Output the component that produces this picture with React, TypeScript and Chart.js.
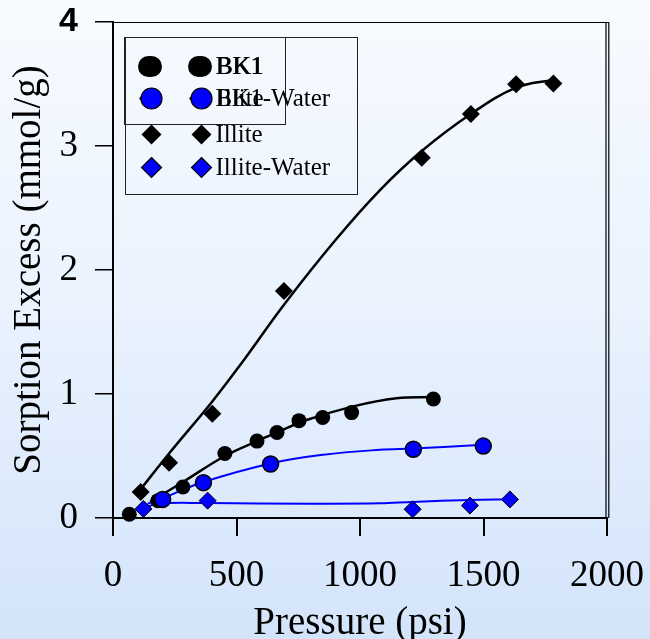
import React, { useEffect, useRef } from "react";
import { Chart, registerables } from "chart.js";
Chart.register(...registerables);

// ---- data ----
const xTickValues = [0, 500, 1000, 1500, 2000];
const yTickValues = [0, 1, 2, 3, 4];

const bk1P = [66, 182, 283, 453, 583, 664, 753, 849, 966, 1297];
const bk1S = [0.03, 0.14, 0.25, 0.52, 0.62, 0.69, 0.785, 0.81, 0.85, 0.96];
const bk1WaterP = [201, 366, 638, 1216, 1499];
const bk1WaterS = [0.15, 0.285, 0.435, 0.554, 0.58];
const illiteP = [112, 227, 402, 692, 1250, 1449, 1632, 1783];
const illiteS = [0.21, 0.446, 0.84, 1.83, 2.906, 3.258, 3.497, 3.505];
const illiteWaterP = [123, 383, 1213, 1445, 1607];
const illiteWaterS = [0.073, 0.14, 0.07, 0.1, 0.15];

// fitted curves
const bk1FitP = [150, 283, 453, 583, 664, 784, 973, 1148, 1297];
const bk1FitS = [0.13, 0.29, 0.5, 0.62, 0.69, 0.79, 0.9, 0.965, 0.975];
const bk1WaterFitP = [140, 201, 366, 638, 851, 1081, 1216, 1499];
const bk1WaterFitS = [0.115, 0.16, 0.29, 0.44, 0.51, 0.55, 0.56, 0.59];
const illiteFitP = [109, 227, 402, 521, 696, 900, 1081, 1250, 1450, 1632, 1783];
const illiteFitS = [0.225, 0.52, 0.94, 1.25, 1.73, 2.24, 2.645, 2.96, 3.26, 3.47, 3.535];
const illiteWaterFitP = [123, 180, 383, 800, 1081, 1213, 1445, 1607];
const illiteWaterFitS = [0.075, 0.115, 0.12, 0.115, 0.118, 0.13, 0.145, 0.15];

const legendLabels = ["BK1", "BK1-Water", "Illite", "Illite-Water"];
const smallLegendLabels = ["BK1", "Illite"];

const xTitle = "Pressure (psi)";
const yTitle = "Sorption Excess (mmol/g)";

const BLUE = "#0000ff";
const SERIF = "'Liberation Serif', 'Times New Roman', serif";

const pts = (xs: number[], ys: number[]) => xs.map((x, i) => ({ x, y: ys[i] }));

function drawMarker(ctx: CanvasRenderingContext2D, kind: string, x: number, y: number, r: number, fill: string, stroke: string | null) {
  ctx.beginPath();
  if (kind === "circle") {
    ctx.arc(x, y, r, 0, Math.PI * 2);
  } else {
    ctx.moveTo(x, y - r);
    ctx.lineTo(x + r, y);
    ctx.lineTo(x, y + r);
    ctx.lineTo(x - r, y);
    ctx.closePath();
  }
  ctx.fillStyle = fill;
  ctx.fill();
  if (stroke) {
    ctx.strokeStyle = stroke;
    ctx.lineWidth = 1.2;
    ctx.stroke();
  }
}

const framePlugin = {
  id: "frame",
  beforeDatasetsDraw(chart: any) {
    const { ctx, chartArea } = chart;
    const { left, right, top, bottom } = chartArea;
    ctx.save();
    ctx.strokeStyle = "#000";
    ctx.lineWidth = 1.2;
    ctx.beginPath();
    ctx.moveTo(left, top + 0.5);
    ctx.lineTo(right + 2, top + 0.5);
    ctx.moveTo(right - 1, top);
    ctx.lineTo(right - 1, bottom);
    ctx.moveTo(right + 1.8, top);
    ctx.lineTo(right + 1.8, bottom);
    ctx.stroke();
    ctx.restore();
  },
};

const legendPlugin = {
  id: "doubleLegend",
  afterDraw(chart: any) {
    const { ctx, chartArea } = chart;
    const x0 = chartArea.left + 12.5;
    const y0 = chartArea.top + 15.5;
    const rowY = [y0 + 29, y0 + 61, y0 + 97, y0 + 130];
    const m1 = x0 + 26;
    const m2 = x0 + 76;
    const tx = x0 + 90;
    ctx.save();
    ctx.strokeStyle = "#222";
    ctx.lineWidth = 1;
    // small (back) legend
    ctx.strokeRect(x0 - 1, y0, 161, 87);
    const smallKinds = [
      { kind: "circle", fill: "#000", stroke: null },
      { kind: "diamond", fill: "#000", stroke: null },
    ];
    smallKinds.forEach((k, i) => {
      const r = k.kind === "circle" ? 10.5 : 9.5;
      drawMarker(ctx, k.kind, m1 - 3, rowY[i], r, k.fill, k.stroke);
      drawMarker(ctx, k.kind, m2 - 3, rowY[i], r, k.fill, k.stroke);
    });
    ctx.font = `25px ${SERIF}`;
    ctx.fillStyle = "#000";
    ctx.textBaseline = "middle";
    ctx.textAlign = "left";
    smallLegendLabels.forEach((t, i) => ctx.fillText(t, tx + 1, rowY[i] + 1));
    // big legend
    ctx.strokeRect(x0, y0, 232, 157);
    const kinds = [
      { kind: "circle", fill: "#000", stroke: null },
      { kind: "circle", fill: BLUE, stroke: "#000" },
      { kind: "diamond", fill: "#000", stroke: null },
      { kind: "diamond", fill: BLUE, stroke: "#000" },
    ];
    kinds.forEach((k, i) => {
      const r = k.kind === "circle" ? 10.5 : 10;
      drawMarker(ctx, k.kind, m1, rowY[i], r, k.fill, k.stroke);
      drawMarker(ctx, k.kind, m2, rowY[i], r, k.fill, k.stroke);
    });
    ctx.fillStyle = "#000";
    legendLabels.forEach((t, i) => ctx.fillText(t, tx, rowY[i] + 1));
    ctx.restore();
  },
};

export default function App() {
  const ref = useRef<HTMLCanvasElement>(null);
  useEffect(() => {
    if (!ref.current) return;
    const pointSet = (label: string, xs: number[], ys: number[], style: string, fill: string, border: string, r: number, bw: number) => ({
      label,
      data: pts(xs, ys),
      showLine: false,
      pointStyle: style,
      pointRadius: r,
      pointBackgroundColor: fill,
      pointBorderColor: border,
      pointBorderWidth: bw,
      clip: false,
    });
    const curveSet = (label: string, xs: number[], ys: number[], color: string, w: number) => ({
      label,
      data: pts(xs, ys),
      showLine: true,
      pointRadius: 0,
      borderColor: color,
      borderWidth: w,
      tension: 0.4,
      fill: false,
      clip: false,
    });
    const chart = new Chart(ref.current, {
      type: "scatter",
      data: {
        datasets: [
          pointSet("Illite-Water", illiteWaterP, illiteWaterS, "rectRot", BLUE, "#000", 8.5, 1),
          pointSet("BK1-Water", bk1WaterP, bk1WaterS, "circle", BLUE, "#000", 8, 1.5),
          pointSet("Illite", illiteP, illiteS, "rectRot", "#000", "#000", 9, 0),
          pointSet("BK1", bk1P, bk1S, "circle", "#000", "#000", 7.5, 0),
          curveSet("Illite-Water fit", illiteWaterFitP, illiteWaterFitS, BLUE, 2),
          curveSet("BK1-Water fit", bk1WaterFitP, bk1WaterFitS, BLUE, 2),
          curveSet("Illite fit", illiteFitP, illiteFitS, "#000", 2.5),
          curveSet("BK1 fit", bk1FitP, bk1FitS, "#000", 2.5),
        ] as any,
      },
      options: {
        animation: false,
        responsive: false,
        layout: { padding: { top: 22, right: 43, left: 0, bottom: 0 } },
        plugins: { legend: { display: false }, tooltip: { enabled: false } },
        scales: {
          x: {
            type: "linear",
            min: 0,
            max: 2000,
            afterBuildTicks: (s: any) => { s.ticks = xTickValues.map((v) => ({ value: v })); },
            afterFit: (s: any) => { s.height = 121; s.paddingLeft = 0; s.paddingRight = 0; s.paddingTop = 0; s.paddingBottom = 0; },
            ticks: { color: "#000", font: { family: SERIF, size: 37 }, padding: 18, maxRotation: 0, autoSkip: false, callback: (v: any) => String(v) },
            grid: { drawOnChartArea: false, drawTicks: true, tickLength: 18, color: "#000", lineWidth: 2 },
            border: { display: true, color: "#000", width: 2 },
            title: { display: true, text: xTitle, color: "#000", font: { family: SERIF, size: 39 }, padding: { top: 0, bottom: -8 } },
          },
          y: {
            type: "linear",
            min: 0,
            max: 4,
            afterBuildTicks: (s: any) => { s.ticks = yTickValues.map((v) => ({ value: v })); },
            afterFit: (s: any) => { s.width = 113; s.paddingLeft = 0; s.paddingRight = 0; s.paddingTop = 0; s.paddingBottom = 0; },
            ticks: {
              color: "#000",
              padding: 17,
              autoSkip: false,
              callback: (v: any) => String(v),
              font: (c: any) => c.tick && c.tick.value === 4
                ? { family: "'Liberation Sans', Arial, sans-serif", size: 34, weight: "bold" }
                : { family: SERIF, size: 37 },
            },
            grid: { drawOnChartArea: false, drawTicks: true, tickLength: 18, color: "#000", lineWidth: 1.5 },
            border: { display: true, color: "#000", width: 2 },
            title: { display: true, text: yTitle, color: "#000", font: { family: SERIF, size: 39 }, padding: { top: 6, bottom: 0 } },
          },
        },
      } as any,
      plugins: [framePlugin, legendPlugin],
    });
    return () => chart.destroy();
  }, []);
  return (
    <div
      style={{
        position: "fixed",
        left: 0,
        top: 0,
        width: 650,
        height: 639,
        background: "linear-gradient(to bottom, #f8fbff 0%, #e9f2fe 50%, #d3e4fa 100%)",
      }}
    >
      <canvas ref={ref} width={650} height={639} style={{ display: "block", width: 650, height: 639 }} />
    </div>
  );
}
